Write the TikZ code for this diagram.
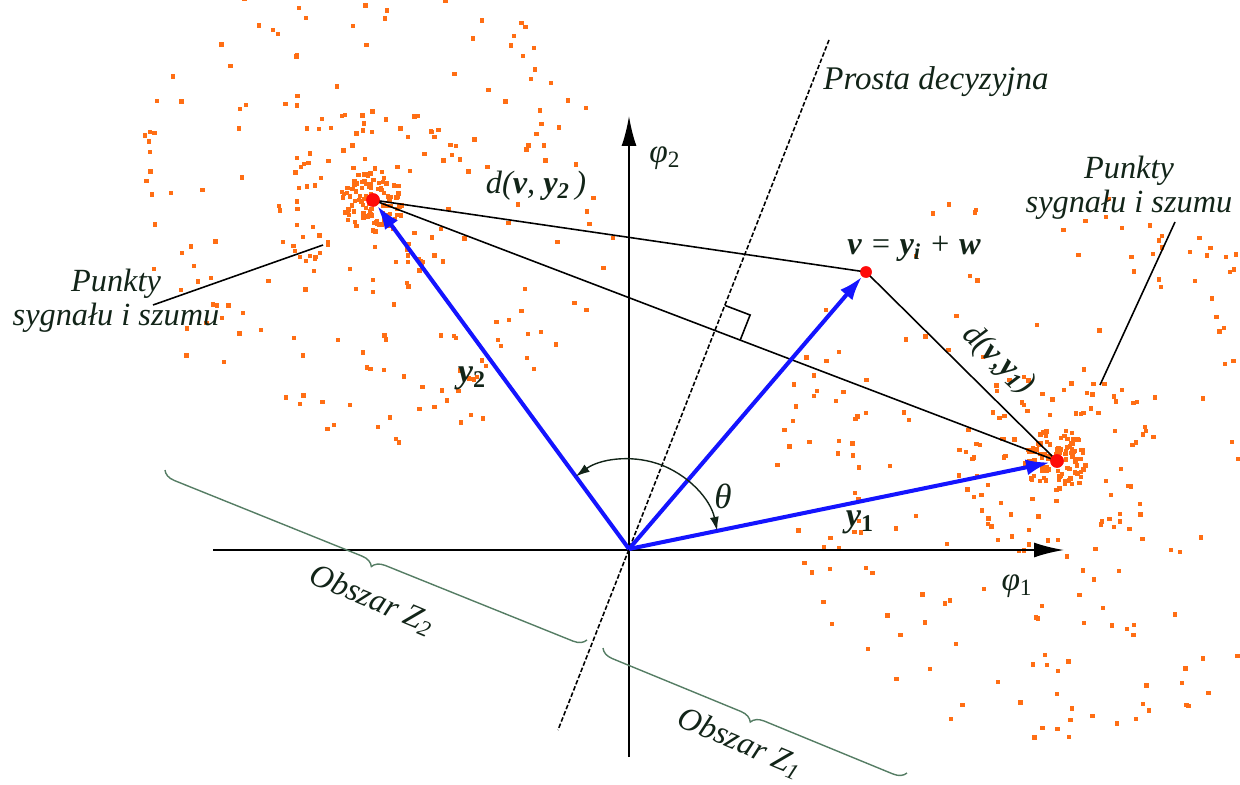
\documentclass[tikz,border=0pt]{standalone}
\usepackage{fontspec}
\setmainfont{Liberation Serif}
\usetikzlibrary{arrows.meta,decorations.pathreplacing,calc}
\newcommand\myb[1]{{\bfseries\itshape #1}}
\definecolor{txtc}{RGB}{18,36,24}
\definecolor{bracec}{RGB}{85,125,100}
\definecolor{dotc}{RGB}{255,110,20}
\definecolor{reddot}{RGB}{255,10,10}
\definecolor{vecc}{RGB}{20,20,255}
\begin{document}
\begin{tikzpicture}[x=0.02cm,y=-0.02cm,
  lbl/.style={text=txtc,font=\fontsize{18.4}{19.4}\selectfont\itshape,inner sep=0pt},
  reddotst/.style={circle,fill=reddot,inner sep=0pt,minimum size=#1},
  vecarrow/.style={draw=vecc,line width=2.3pt,-{Latex[length=0.48cm,width=0.32cm]}},
  thinline/.style={draw=black,line width=0.9pt},
  axisline/.style={draw=black,line width=1.1pt,-{Latex[length=0.6cm,width=0.3cm]}},
  decline/.style={draw=black,line width=0.9pt,dash pattern=on 2.6pt off 1.2pt},
  bracest/.style={draw=bracec,line width=0.8pt,decorate,decoration={brace,mirror,amplitude=0.25cm}},
  pointer/.style={draw=black,line width=0.9pt}]
\useasboundingbox (0,0) rectangle (1240,784);
% ---- scattered noise points
\begin{scope}
\clip (0,0) rectangle (1240,784);
\pgfmathsetseed{2024}
\foreach \cx/\cy/\n/\rmin/\rmax in {373/200/100/2/32, 373/200/90/32/100, 373/200/160/100/245,
  1057/461/100/2/32, 1057/461/90/32/100, 1057/461/180/100/280}{
  \foreach \i in {1,...,\n}{
    \pgfmathsetmacro\ang{360*rnd}
    \pgfmathsetmacro\rad{\rmin+(\rmax-\rmin)*sqrt(rnd)}
    \pgfmathsetmacro\px{\cx+\rad*cos(\ang)}
    \pgfmathsetmacro\py{\cy+\rad*sin(\ang)}
    \fill[dotc] (\px-2.2,\py-2.2) rectangle (\px+2.2,\py+2.2);
  }
}
\end{scope}
% ---- key points
\coordinate (O) at (629,549);
\coordinate (xl) at (213,550);
\coordinate (xr) at (1064,550);
\coordinate (yb) at (629,757);
\coordinate (yt) at (629,116);
\coordinate (D1) at (829,40);
\coordinate (D2) at (558,730);
\coordinate (M) at (715,330.5);
% ---- axes
\draw[axisline] (xl) -- (xr);
\draw[axisline] (yb) -- (yt);
\node[lbl,font=\fontsize{19}{20}\selectfont] (phi1) at (1017,586) {\textit{φ}\textsubscript{1}};
\node[lbl,font=\fontsize{19}{20}\selectfont] (phi2) at (665,158) {\textit{φ}\textsubscript{2}};
% ---- decision line
\draw[decline] (D1) -- (D2);
\node[lbl,anchor=west,font=\fontsize{18.8}{20}\selectfont\itshape] (prosta) at (823,82) {Prosta decyzyjna};
% ---- signal points
\node[reddotst=0.27cm] (s2) at (373,200) {};
\node[reddotst=0.27cm] (s1) at (1057,461) {};
\node[reddotst=0.23cm] (v) at (866,272) {};
% ---- distances
\draw[thinline] (s2.center) -- (v.center);
\draw[thinline] (s2.center) -- (s1.center);
\draw[thinline] (v.center) -- (s1.center);
\draw[thinline] ($(M)+(9.9,-25.1)$) -- ++(25.2,9.6) -- ($(M)+(25.2,9.6)$);
% redraw dots on top
\node[reddotst=0.27cm] at (s2) {};
\node[reddotst=0.27cm] at (s1) {};
\node[reddotst=0.23cm] at (v) {};
% ---- vectors
\draw[vecarrow] (O) -- (s2);
\draw[vecarrow] (O) -- (v);
\draw[vecarrow] (O) -- (s1);
% ---- angle
\draw[draw=txtc,line width=0.8pt,{Latex[length=0.28cm,width=0.18cm]}-{Latex[length=0.28cm,width=0.18cm]}]
  ($(O)+(-11.6:90)$) arc[start angle=-11.6,end angle=-126.3,radius=90];
\node[lbl,font=\fontsize{20}{20}\selectfont] (theta) at (723,496) {\textit{θ}};
% ---- labels
\node[lbl,font=\fontsize{19.5}{20}\selectfont] (ly2) at (472,378) {\myb{y}\textsubscript{\textbf{2}}};
\node[lbl,font=\fontsize{19.5}{20}\selectfont] (ly1) at (860,522) {\myb{y}\textsubscript{\textbf{1}}};
\node[lbl] (ldv2) at (536,186) {\textit{d}(\myb{v}, \myb{y}\textsubscript{\textbf{2}}\,)};
\node[lbl] (lv) at (914,249) {\myb{v} = \myb{y}\textsubscript{\myb{i}} + \myb{w}};
\node[lbl,rotate=-43] (ldv1) at (998,360) {\textit{d}(\myb{v},\myb{y}\textsubscript{\textbf{1}})};
% ---- cluster labels
\node[lbl,align=center] (pl) at (116,301) {Punkty\\sygnału i szumu};
\node[lbl,align=center] (pr) at (1129,188) {Punkty\\sygnału i szumu};
\coordinate (pla) at (153,305);
\coordinate (plb) at (323,245);
\coordinate (pra) at (1175,222);
\coordinate (prb) at (1100,385);
\draw[pointer] (pla) -- (plb);
\draw[pointer] (pra) -- (prb);
% ---- regions
\coordinate (b2a) at (165,470);
\coordinate (b2b) at (587,640);
\coordinate (b1a) at (603,648);
\coordinate (b1b) at (907,773);
\draw[bracest] (b2a) -- (b2b);
\draw[bracest] (b1a) -- (b1b);
\node[lbl,rotate=-23] (z2) at (372,600) {Obszar \textit{Z}\textsubscript{2}};
\node[lbl,rotate=-23] (z1) at (740,743) {Obszar \textit{Z}\textsubscript{1}};
\end{tikzpicture}
\end{document}
